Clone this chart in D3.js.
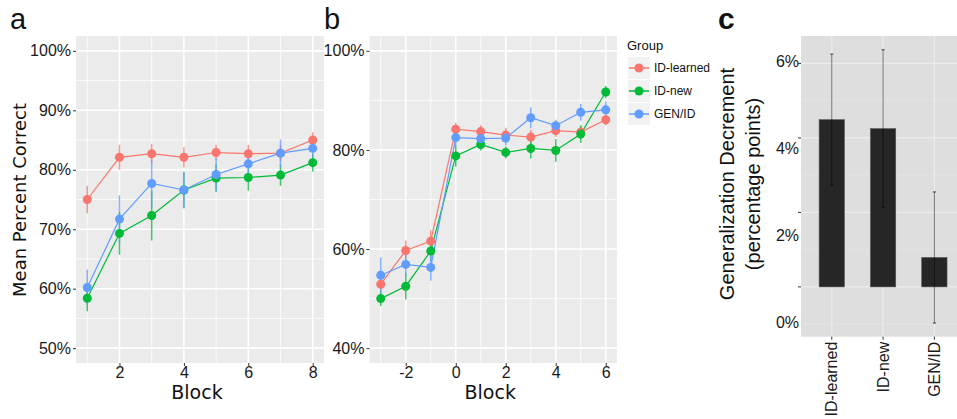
<!DOCTYPE html>
<html>
<head>
<meta charset="utf-8">
<script src="https://cdn.jsdelivr.net/npm/d3@7"></script>
<style>
  body { margin: 0; background: #fff; }
  svg { display: block; }
</style>
</head>
<body>
<svg id="chart" width="957" height="419"></svg>
<script>
// groups and colours
const groups = ["ID-learned", "ID-new", "GEN/ID"];
const groupColors = ["#F8766D", "#00BA38", "#619CFF"];

// panel a: blocks 1..8
const blocksA = [1, 2, 3, 4, 5, 6, 7, 8];
const meanA = {
  "ID-learned": [75.0, 82.1, 82.7, 82.1, 82.9, 82.7, 82.8, 85.0],
  "ID-new":     [58.4, 69.3, 72.3, 76.6, 78.6, 78.7, 79.1, 81.2],
  "GEN/ID":     [60.2, 71.7, 77.7, 76.6, 79.2, 81.0, 82.8, 83.6]
};
const errA = {
  "ID-learned": [2.3, 2.1, 1.6, 1.7, 1.3, 1.5, 1.3, 1.3],
  "ID-new":     [2.2, 3.6, 4.2, 3.0, 2.3, 2.2, 1.8, 1.5],
  "GEN/ID":     [3.0, 4.0, 4.0, 3.1, 2.8, 1.7, 2.3, 1.5]
};

// panel b: blocks -3..6
const blocksB = [-3, -2, -1, 0, 1, 2, 3, 4, 5, 6];
const meanB = {
  "ID-learned": [52.9, 59.7, 61.6, 84.2, 83.7, 83.0, 82.6, 83.9, 83.6, 86.1],
  "ID-new":     [50.0, 52.5, 59.6, 78.8, 81.1, 79.5, 80.3, 79.9, 83.2, 91.7],
  "GEN/ID":     [54.7, 56.9, 56.3, 82.5, 82.3, 82.4, 86.5, 84.9, 87.6, 88.1]
};
const errB = {
  "ID-learned": [1.5, 2.0, 2.2, 1.3, 1.3, 1.5, 1.5, 1.3, 1.2, 1.1],
  "ID-new":     [1.5, 2.7, 2.0, 2.2, 1.2, 1.2, 2.0, 2.3, 1.8, 1.2],
  "GEN/ID":     [3.6, 2.5, 2.7, 1.5, 1.5, 1.5, 2.1, 1.2, 1.7, 1.7]
};

// panel c: generalization decrement
const decMean = [4.49, 4.25, 0.79];
const decErr = [1.76, 2.12, 1.76];

const svg = d3.select("#chart");
const tickFont = "Liberation Sans, Arial, sans-serif";
const titleFont = "DejaVu Sans, sans-serif";

function expand(lo, hi) {
  const d = (hi - lo) * 0.05;
  return [lo - d, hi + d];
}

function linePanel(opts) {
  const x = d3.scaleLinear().domain(expand(d3.min(opts.blocks), d3.max(opts.blocks)))
    .range([opts.left, opts.right]);
  const y = d3.scaleLinear().domain(expand(opts.yLim[0], opts.yLim[1]))
    .range([opts.bottom, opts.top]);
  const g = svg.append("g");

  g.append("rect")
    .attr("x", opts.left).attr("y", opts.top)
    .attr("width", opts.right - opts.left).attr("height", opts.bottom - opts.top)
    .attr("fill", "#EBEBEB");

  // minor grid
  g.selectAll(".ymin").data(opts.yMinor).join("line")
    .attr("x1", opts.left).attr("x2", opts.right)
    .attr("y1", d => y(d)).attr("y2", d => y(d))
    .attr("stroke", "#fff").attr("stroke-width", 0.8);
  g.selectAll(".xmin").data(opts.xMinor).join("line")
    .attr("y1", opts.top).attr("y2", opts.bottom)
    .attr("x1", d => x(d)).attr("x2", d => x(d))
    .attr("stroke", "#fff").attr("stroke-width", 0.8);
  // major grid
  g.selectAll(".ymaj").data(opts.yTicks).join("line")
    .attr("x1", opts.left).attr("x2", opts.right)
    .attr("y1", d => y(d)).attr("y2", d => y(d))
    .attr("stroke", "#fff").attr("stroke-width", 1.6);
  g.selectAll(".xmaj").data(opts.xTicks).join("line")
    .attr("y1", opts.top).attr("y2", opts.bottom)
    .attr("x1", d => x(d)).attr("x2", d => x(d))
    .attr("stroke", "#fff").attr("stroke-width", 1.6);

  // axes
  const ya = g.append("g").attr("transform", `translate(${opts.left},0)`)
    .call(d3.axisLeft(y).tickValues(opts.yTicks).tickSize(3).tickPadding(2).tickFormat(d => d + "%"));
  const xa = g.append("g").attr("transform", `translate(0,${opts.bottom})`)
    .call(d3.axisBottom(x).tickValues(opts.xTicks).tickSize(3).tickPadding(1).tickFormat(d => String(d)));
  [ya, xa].forEach(a => {
    a.select(".domain").remove();
    a.selectAll(".tick line").attr("stroke", "#333");
    a.selectAll("text").attr("fill", "#1a1a1a")
      .style("font-family", tickFont).style("font-size", "16px");
  });

  // series
  groups.forEach((grp, gi) => {
    const pts = opts.blocks.map((b, i) => ({ b, m: opts.mean[grp][i], e: opts.err[grp][i] }));
    g.append("g").selectAll("line").data(pts).join("line")
      .attr("x1", d => x(d.b)).attr("x2", d => x(d.b))
      .attr("y1", d => y(d.m - d.e)).attr("y2", d => y(d.m + d.e))
      .attr("stroke", groupColors[gi]).attr("stroke-width", 1.5).attr("opacity", 0.75);
  });
  groups.forEach((grp, gi) => {
    const pts = opts.blocks.map((b, i) => ({ b, m: opts.mean[grp][i] }));
    g.append("path").datum(pts)
      .attr("d", d3.line().x(d => x(d.b)).y(d => y(d.m)))
      .attr("fill", "none").attr("stroke", groupColors[gi]).attr("stroke-width", 1.2);
  });
  groups.forEach((grp, gi) => {
    const pts = opts.blocks.map((b, i) => ({ b, m: opts.mean[grp][i] }));
    g.append("g").selectAll("circle").data(pts).join("circle")
      .attr("cx", d => x(d.b)).attr("cy", d => y(d.m)).attr("r", 4.5)
      .attr("fill", groupColors[gi]);
  });

  g.append("text")
    .attr("x", (opts.left + opts.right) / 2 - 3).attr("y", 399)
    .attr("text-anchor", "middle")
    .style("font-family", titleFont).style("font-size", "19px").attr("fill", "#111")
    .text("Block");

  g.append("text")
    .attr("x", opts.labelX).attr("y", 29)
    .style("font-family", tickFont).style("font-size", "29px").attr("fill", "#111")
    .text(opts.label);
  return g;
}

linePanel({
  blocks: blocksA, mean: meanA, err: errA,
  left: 76, right: 324, top: 36, bottom: 363,
  yLim: [50, 100], yTicks: [50, 60, 70, 80, 90, 100], yMinor: [55, 65, 75, 85, 95],
  xTicks: [2, 4, 6, 8], xMinor: [1, 3, 5, 7],
  label: "a", labelX: 10
});

linePanel({
  blocks: blocksB, mean: meanB, err: errB,
  left: 369.5, right: 617, top: 36, bottom: 363,
  yLim: [40, 100], yTicks: [40, 60, 80, 100], yMinor: [50, 70, 90],
  xTicks: [-2, 0, 2, 4, 6], xMinor: [-3, -1, 1, 3, 5],
  label: "b", labelX: 324
});

svg.append("text")
  .attr("transform", "translate(26,200) rotate(-90)")
  .attr("text-anchor", "middle")
  .style("font-family", titleFont).style("font-size", "18px").attr("fill", "#111")
  .text("Mean Percent Correct");

// legend
const leg = svg.append("g").attr("transform", "translate(627,0)");
leg.append("text").attr("x", 0).attr("y", 50)
  .style("font-family", tickFont).style("font-size", "13px").attr("fill", "#111")
  .text("Group");
groups.forEach((grp, i) => {
  const ky = 57 + i * 23;
  leg.append("rect").attr("x", 1).attr("y", ky).attr("width", 22).attr("height", 22)
    .attr("fill", "#F2F2F2");
  leg.append("line").attr("x1", 2).attr("x2", 22).attr("y1", ky + 11).attr("y2", ky + 11)
    .attr("stroke", groupColors[i]).attr("stroke-width", 1.5);
  leg.append("circle").attr("cx", 12).attr("cy", ky + 11).attr("r", 4.5)
    .attr("fill", groupColors[i]);
  leg.append("text").attr("x", 27).attr("y", ky + 11).attr("dy", "0.35em")
    .style("font-family", tickFont).style("font-size", "12px").attr("fill", "#111")
    .text(grp);
});

// panel c
const cLeft = 801, cRight = 957, cTop = 36, cBottom = 336.7;
const lo = d3.min(decMean.map((m, i) => Math.min(0, m - decErr[i])));
const hi = d3.max(decMean.map((m, i) => m + decErr[i]));
const yc = d3.scaleLinear().domain(expand(lo, hi)).range([cBottom, cTop]);
// tick labels of panel c sit offset from their grid lines in the original figure
const ycLabel = d3.scaleLinear().domain([0, 6]).range([322, 61]);
const step = 51.3;
const xc = d3.scalePoint().domain(groups).range([cLeft, cLeft + step * 3.2]).padding(0.6);
const bw = 25.3;
const gc = svg.append("g");
gc.append("rect").attr("x", cLeft).attr("y", cTop)
  .attr("width", cRight - cLeft).attr("height", cBottom - cTop).attr("fill", "#DEDEDE");
gc.selectAll(".cmin").data([-1, 1, 3, 5]).join("line")
  .attr("x1", cLeft).attr("x2", cRight).attr("y1", d => yc(d)).attr("y2", d => yc(d))
  .attr("stroke", "#E6E6E6").attr("stroke-width", 0.7);
gc.selectAll(".cmaj").data([0, 2, 4, 6]).join("line")
  .attr("x1", cLeft).attr("x2", cRight).attr("y1", d => yc(d)).attr("y2", d => yc(d))
  .attr("stroke", "#ECECEC").attr("stroke-width", 1.2);
gc.selectAll(".cvx").data(groups).join("line")
  .attr("y1", cTop).attr("y2", cBottom).attr("x1", d => xc(d)).attr("x2", d => xc(d))
  .attr("stroke", "#ECECEC").attr("stroke-width", 1.2);

gc.selectAll(".bar").data(groups).join("rect")
  .attr("x", d => xc(d) - bw / 2).attr("width", bw)
  .attr("y", (d, i) => yc(decMean[i])).attr("height", (d, i) => yc(0) - yc(decMean[i]))
  .attr("fill", "#262626").attr("stroke", "#555").attr("stroke-width", 0.6);

groups.forEach((grp, i) => {
  const cx = xc(grp);
  const e = gc.append("g").attr("stroke", "#000").attr("stroke-opacity", 0.5).attr("stroke-width", 1);
  e.append("line").attr("x1", cx).attr("x2", cx)
    .attr("y1", yc(decMean[i] - decErr[i])).attr("y2", yc(decMean[i] + decErr[i]));
  [decMean[i] - decErr[i], decMean[i] + decErr[i]].forEach(v => {
    e.append("line").attr("x1", cx - 1.5).attr("x2", cx + 1.5)
      .attr("y1", yc(v)).attr("y2", yc(v)).attr("stroke-width", 1.5);
  });
});

// panel c axes
[0, 2, 4, 6].forEach(v => {
  gc.append("line").attr("x1", cLeft - 3).attr("x2", cLeft)
    .attr("y1", yc(v)).attr("y2", yc(v)).attr("stroke", "#333");
  gc.append("text").attr("x", cLeft - 2).attr("y", ycLabel(v)).attr("dy", "0.35em")
    .attr("text-anchor", "end")
    .style("font-family", tickFont).style("font-size", "16px").attr("fill", "#1a1a1a")
    .text(v + "%");
});
groups.forEach(grp => {
  gc.append("line").attr("x1", xc(grp)).attr("x2", xc(grp))
    .attr("y1", cBottom).attr("y2", cBottom + 3).attr("stroke", "#333");
  gc.append("text")
    .attr("transform", `translate(${xc(grp)},${cBottom + 5}) rotate(-90)`)
    .attr("text-anchor", "end").attr("dy", "0.35em")
    .style("font-family", tickFont).style("font-size", "16px").attr("fill", "#1a1a1a")
    .text(grp);
});
gc.append("text")
  .attr("transform", "translate(734,184) rotate(-90)")
  .attr("text-anchor", "middle")
  .style("font-family", tickFont).style("font-size", "20px").attr("fill", "#111")
  .text("Generalization Decrement");
gc.append("text")
  .attr("transform", "translate(760,184) rotate(-90)")
  .attr("text-anchor", "middle")
  .style("font-family", tickFont).style("font-size", "20px").attr("fill", "#111")
  .text("(percentage points)");
gc.append("text").attr("x", 718).attr("y", 29)
  .style("font-family", tickFont).style("font-size", "30px").style("font-weight", "bold")
  .attr("fill", "#111")
  .text("c");
</script>
</body>
</html>
